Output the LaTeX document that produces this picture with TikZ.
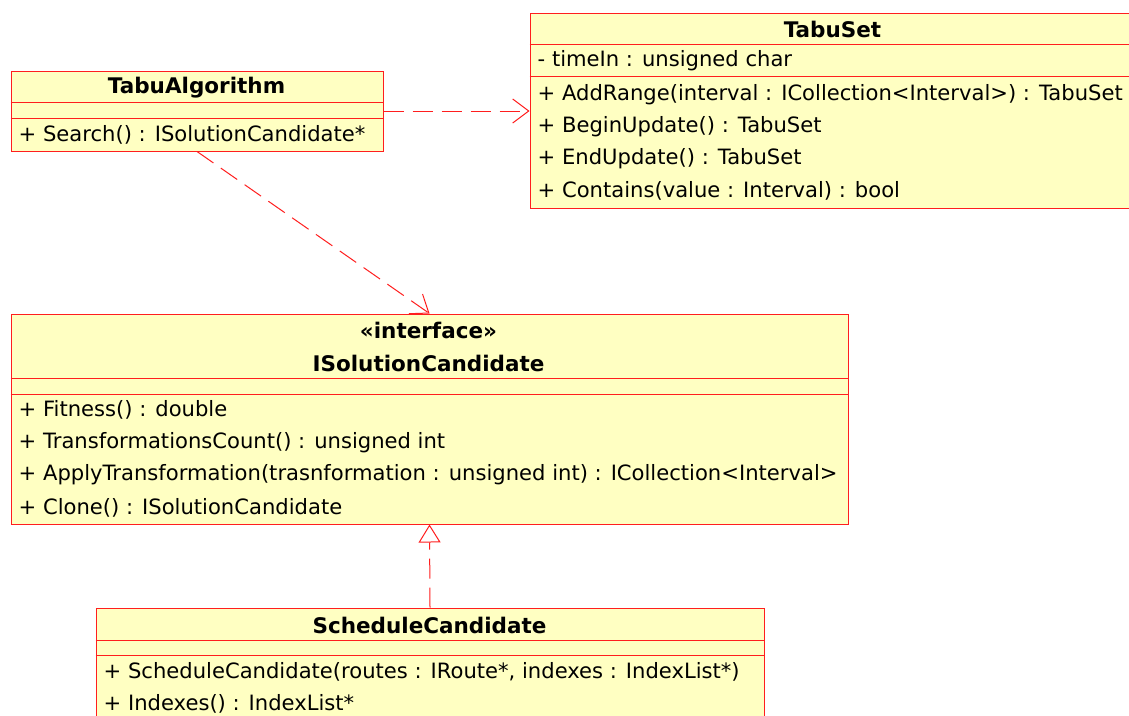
\documentclass[tikz,border=0pt]{standalone}
\usepackage{fontspec}
\setmainfont{DejaVu Sans}
\usetikzlibrary{arrows.meta}
\definecolor{umlfill}{RGB}{255,255,194}
\definecolor{umlred}{RGB}{255,30,30}
\tikzset{
  cls/.style={draw=umlred, fill=umlfill, line width=1pt, rectangle, inner sep=0pt, anchor=north west},
  sep/.style={draw=umlred, line width=1pt},
  ctitle/.style={font=\fontsize{21.5}{24}\selectfont\bfseries, inner sep=0pt},
  member/.style={font=\fontsize{21.1}{24}\selectfont, inner sep=0pt, anchor=west},
  dep/.style={draw=umlred, line width=1pt, dash pattern=on 20pt off 9pt, -{Straight Barb[length=16pt, width=24pt, line width=1pt]}},
  real/.style={draw=umlred, line width=1pt, dash pattern=on 20pt off 9pt, -{Triangle[open, fill=white, length=18pt, width=22pt, line width=1pt]}}
}
\begin{document}
\begin{tikzpicture}[x=1pt,y=-1pt]
\useasboundingbox (0,0) rectangle (1129,715);
\clip (0,0) rectangle (1129,715);
\fill[white] (0,0) rectangle (1129,715);
\begin{scope}[shift={(0.5,0.5)}]
% TabuAlgorithm
\node[cls, minimum width=372pt, minimum height=80pt] (ta) at (10,70) {};
\draw[sep] (10,102) -- (382,102);
\draw[sep] (10,118) -- (382,118);
\node[ctitle] (ta-name) at (196,87) {TabuAlgorithm};
\node[member] (ta-m1) at (18,134) {+ Search() : ISolutionCandidate*};
% TabuSet
\node[cls, minimum width=610pt, minimum height=195pt] (ts) at (529,12) {};
\draw[sep] (529,44) -- (1139,44);
\draw[sep] (529,76) -- (1139,76);
\node[ctitle] (ts-name) at (832,29) {TabuSet};
\node[member] (ts-a1) at (537,60) {- timeIn : unsigned char};
\node[member] (ts-m1) at (537,94) {+ AddRange(interval : ICollection<Interval>) : TabuSet};
\node[member] (ts-m2) at (537,126) {+ BeginUpdate() : TabuSet};
\node[member] (ts-m3) at (537,158) {+ EndUpdate() : TabuSet};
\node[member] (ts-m4) at (537,190) {+ Contains(value : Interval) : bool};
% ISolutionCandidate
\node[cls, minimum width=837pt, minimum height=210pt] (isc) at (10,313) {};
\draw[sep] (10,378) -- (847,378);
\draw[sep] (10,394) -- (847,394);
\node[ctitle] (isc-st) at (428,330) {«interface»};
\node[ctitle] (isc-name) at (428,363) {ISolutionCandidate};
\node[member] (isc-m1) at (18,409) {+ Fitness() : double};
\node[member] (isc-m2) at (18,442) {+ TransformationsCount() : unsigned int};
\node[member] (isc-m3) at (18,474) {+ ApplyTransformation(trasnformation : unsigned int) : ICollection<Interval>};
\node[member] (isc-m4) at (18,507) {+ Clone() : ISolutionCandidate};
% ScheduleCandidate
\node[cls, minimum width=668pt, minimum height=130pt] (sc) at (95,607) {};
\draw[sep] (95,640) -- (763,640);
\draw[sep] (95,655) -- (763,655);
\node[ctitle] (sc-name) at (429,625) {ScheduleCandidate};
\node[member] (sc-m1) at (103,671) {+ ScheduleCandidate(routes : IRoute*, indexes : IndexList*)};
\node[member] (sc-m2) at (103,703) {+ Indexes() : IndexList*};
% connectors
\draw[dep] (ta.east) -- (ta.east -| ts.west);
\draw[dep] (ta.south) -- (isc.north);
\draw[real] (sc.north) -- (isc.south);
\end{scope}
\end{tikzpicture}
\end{document}
